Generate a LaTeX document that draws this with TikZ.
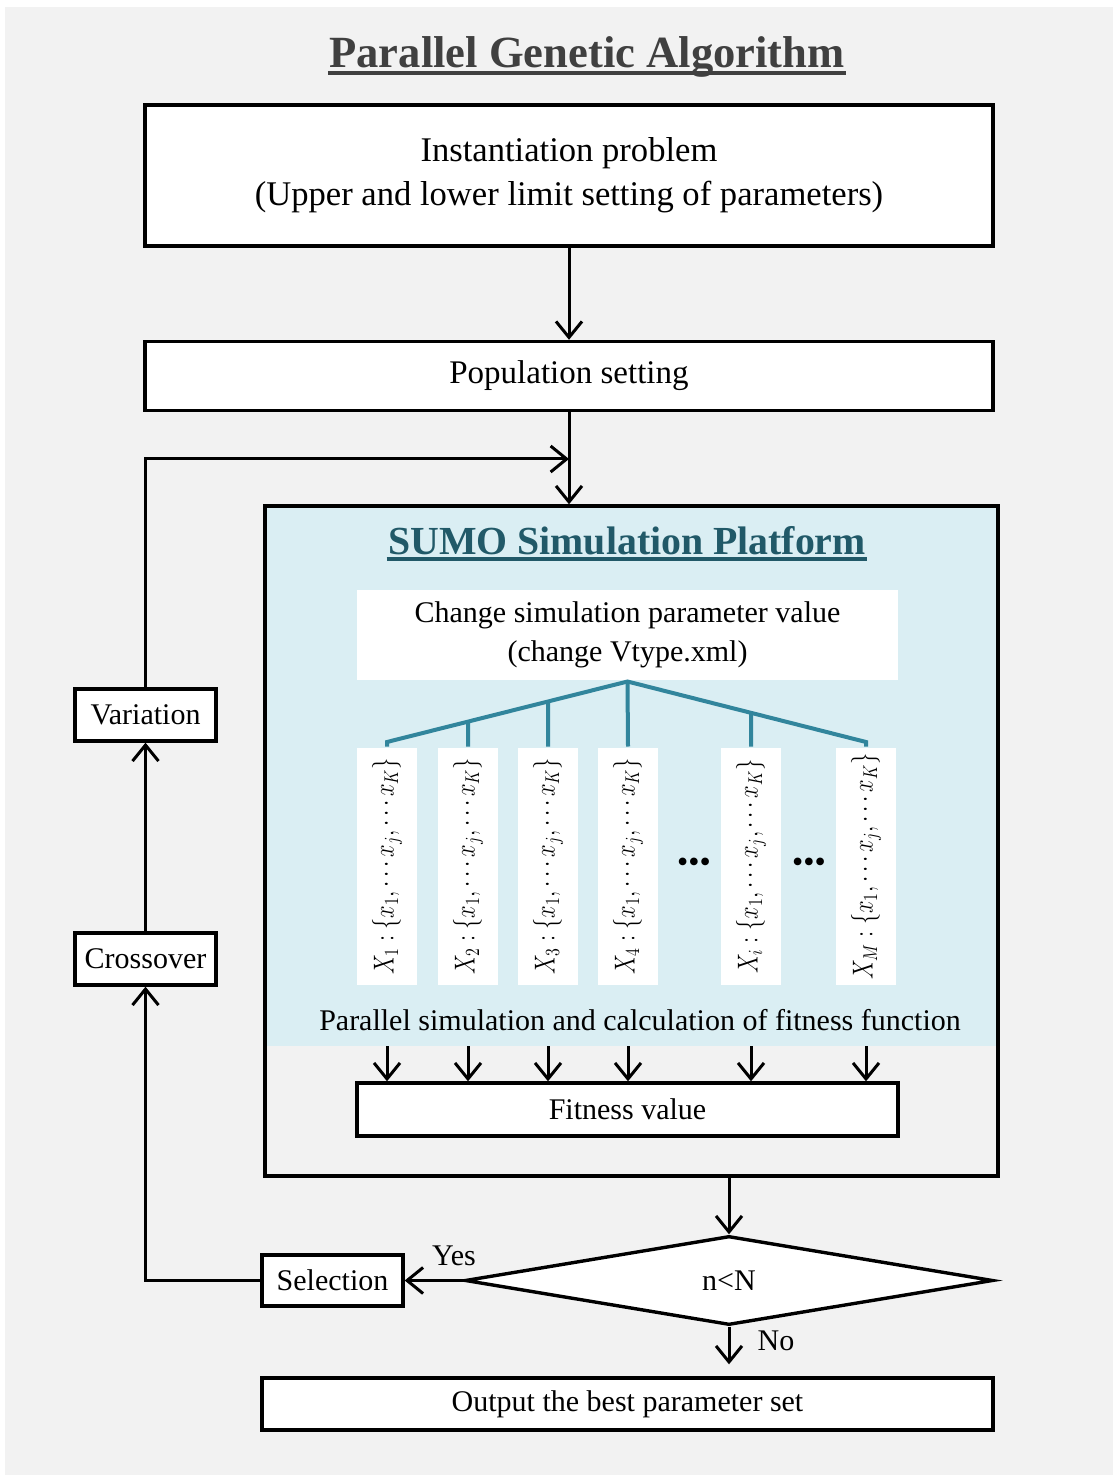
\documentclass[tikz,border=0pt]{standalone}
\usepackage{amsmath}
\usepackage{graphicx}
\usepackage{fontspec}
\setmainfont{Liberation Serif}
\usepackage{tikz}
\usetikzlibrary{positioning,shapes.geometric,arrows.meta,calc}

\definecolor{pagegray}{HTML}{F2F2F2}
\definecolor{sumoblue}{HTML}{DAEEF3}
\definecolor{sumotitle}{HTML}{215968}
\definecolor{treeteal}{HTML}{31859C}
\definecolor{titlegray}{HTML}{404040}

\newcommand{\paramset}[1]{\scalebox{0.78}[1]{$X_{#1}:\left\{x_1,\cdots x_j,\cdots x_K\right\}$}}

\begin{document}
\begin{tikzpicture}[%
            x=0.5pt, y=-0.5pt,
            ->,
            >={Straight Barb[length=8pt,width=13pt]},
            line width=1.5pt,
            font=\fontsize{15}{18}\selectfont,
            process/.style={%
            	rectangle,
            	draw,
            	fill=white,
            	line width=1.7pt,
            	align=center,
            	inner sep=0pt,
            	minimum height=26pt
            },
            sidebox/.style={%
            	process,
            	minimum width=70.5pt
            },
            decision/.style={%
            	diamond,
            	draw,
            	fill=white,
            	line width=1.7pt,
            	inner sep=0pt,
            	aspect=6,
            	minimum width=264pt,
            	minimum height=44.5pt
            },
            param/.style={%
            	rectangle,
            	fill=white,
            	rotate=90,
            	inner sep=0pt,
            	minimum width=118.5pt,
            	minimum height=30pt,
            	font=\fontsize{14}{16}\selectfont
            },
            tree/.style={%
            	-,
            	draw=treeteal,
            	line width=2pt
            },
            heading/.style={%
            	anchor=base,
            	inner sep=0pt,
            	font=\fontsize{22.3}{26}\selectfont\bfseries
            },
            label/.style={%
            	inner sep=0pt
            }
            ]
            % page and canvas
            \useasboundingbox (0,0) rectangle (1113,1475);
            \fill[white] (0,0) rectangle (1113,1475);
            \fill[pagegray] (5,7) rectangle (1113,1475);

            % title
            \node[heading, text=titlegray] (ttl) at (587,68) {Parallel Genetic Algorithm};
            \draw[-, titlegray, line width=2pt] ([yshift=-2.6pt]ttl.base west) -- ([yshift=-2.6pt]ttl.base east);

            % main column
            \node[process, minimum width=424pt, minimum height=70.5pt,
                  font=\fontsize{17.3}{22}\selectfont] (inst) at (569,175.5)
                  {Instantiation problem\\(Upper and lower limit setting of parameters)};
            \node[process, minimum width=424pt, minimum height=34.5pt,
                  font=\fontsize{16.5}{20}\selectfont] (pop) at (569,376) {Population setting};

            % SUMO platform
            \fill[sumoblue] (265,506) rectangle (998,1046);
            \node[draw, -, line width=1.7pt, inner sep=0pt, minimum width=366.5pt,
                  minimum height=335pt] (sumo) at (631.5,841) {};
            \node[heading, text=sumotitle, font=\fontsize{19.9}{24}\selectfont\bfseries] (sttl) at (627,554)
                  {SUMO Simulation Platform};
            \draw[-, sumotitle, line width=2pt] ([yshift=-2.6pt]sttl.base west) -- ([yshift=-2.6pt]sttl.base east);

            \node[rectangle, fill=white, align=center, inner sep=0pt, minimum width=270.5pt,
                  minimum height=45pt, font=\fontsize{15}{19.5}\selectfont] (chg) at (627.5,635)
                  {Change simulation parameter value\\(change Vtype.xml)};

            \node[param] (c1) at (387,866.5) {\paramset{1}};
            \node[param] (c2) at (468,866.5) {\paramset{2}};
            \node[param] (c3) at (548,866.5) {\paramset{3}};
            \node[param] (c4) at (628,866.5) {\paramset{4}};
            \node[param] (c5) at (751,866.5) {\paramset{i}};
            \node[param] (c6) at (866,866.5) {\paramset{M}};
            \node[label, font=\fontsize{16}{16}\selectfont] (d1) at (694,865) {•••};
            \node[label, font=\fontsize{16}{16}\selectfont] (d2) at (809,865) {•••};

            % branching from the parameter box
            \coordinate (L) at (387,742);
            \coordinate (R) at (866,742);
            \draw[tree] (c1.east) -- (L) -- (chg.south) -- (R) -- (c6.east);
            \draw[tree] (chg.south) -- (c4.east);
            \draw[tree] ($(chg.south)!0.6632!(L)$) -- (c2.east);
            \draw[tree] ($(chg.south)!0.3306!(L)$) -- (c3.east);
            \draw[tree] ($(chg.south)!0.5178!(R)$) -- (c5.east);

            \node[label] (par) at (640,1020) {Parallel simulation and calculation of fitness function};

            \node[process, minimum width=270.5pt, minimum height=26.5pt] (fit) at (627.5,1109.5) {Fitness value};
            \coordinate (band) at (627,1046);
            \foreach \c in {1,...,6}
                \draw (c\c |- band) -- (c\c |- fit.north);

            % decision and output
            \node[decision] (cond) at (729,1280.5) {n<N};
            \node[sidebox, minimum height=25.5pt] (sel) at (332.5,1280.5) {Selection};
            \node[sidebox] (cro) at (145.5,959) {Crossover};
            \node[sidebox] (var) at (145.5,715) {Variation};
            \node[process, minimum width=365.5pt] (out) at (627.5,1404) {Output the best parameter set};
            \node[label] (yes) at (454,1256) {Yes};
            \node[label] (no) at (776,1341) {No};

            \coordinate (merge) at (569,459);

            \path (inst) edge (pop)
            (pop.south) edge (pop.south |- sumo.north)
            (cond.north |- sumo.south) edge (cond.north)
            (cond.west) edge (sel.east)
            (cro.north) edge (var.south);
            \draw (sel.west) -| (cro.south);
            \draw (var.north) |- (merge);
            \draw[shorten >=6pt] (cond.south) -- (cond.south |- out.north);
\end{tikzpicture}
\end{document}
